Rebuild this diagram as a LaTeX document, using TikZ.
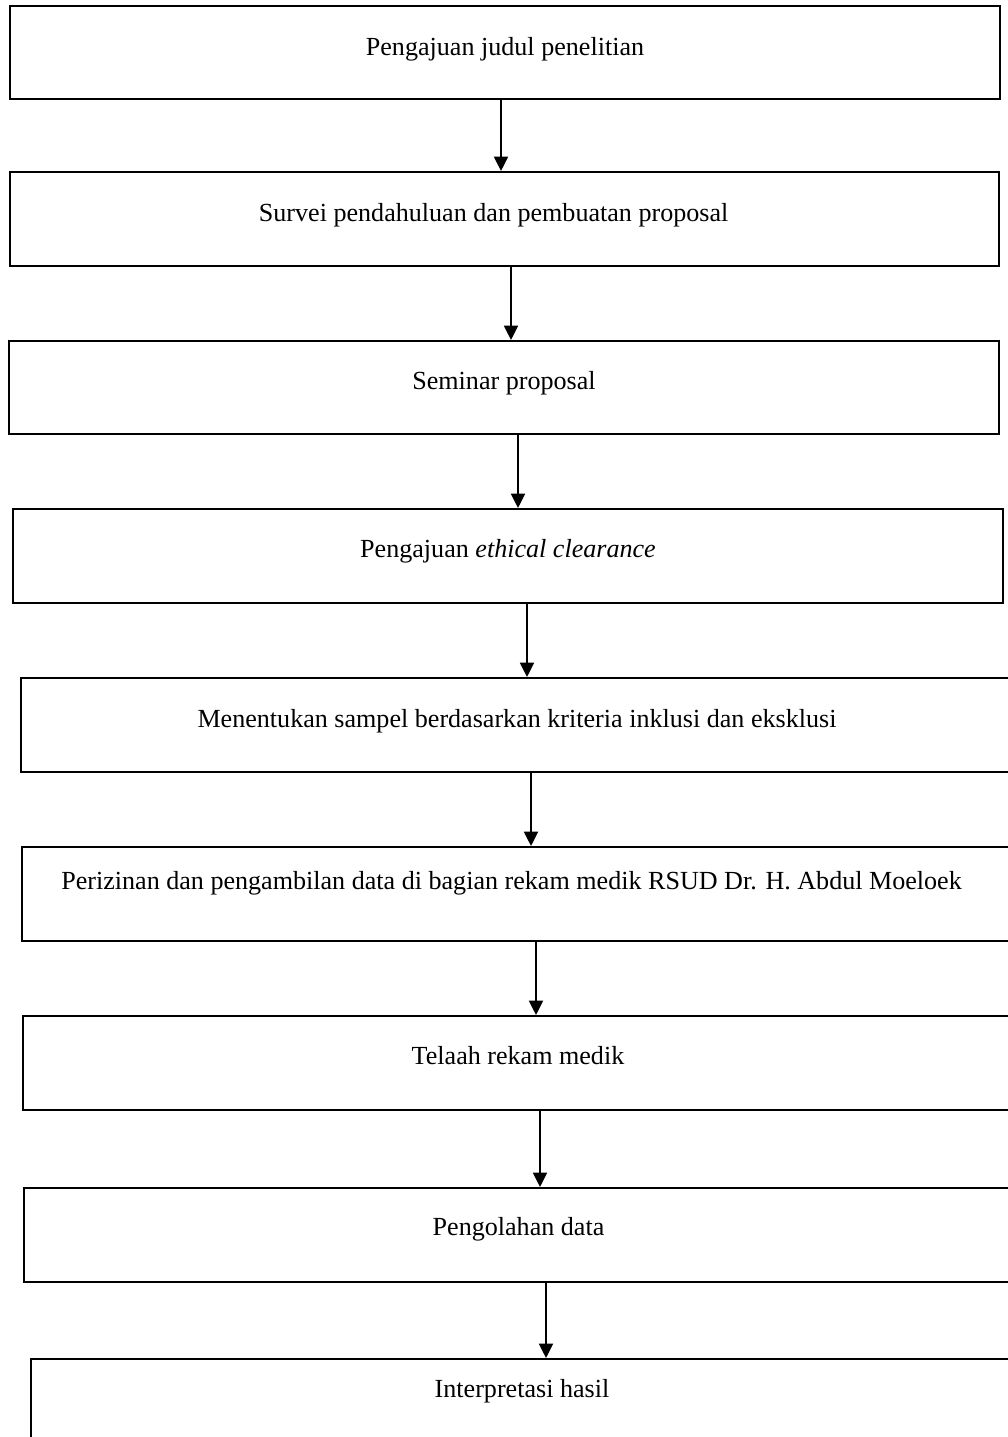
\documentclass[tikz,border=0pt]{standalone}
\usepackage{fontspec}
\setmainfont{Liberation Serif}
\usetikzlibrary{arrows.meta}
\tikzset{
  stepbox/.style={draw,line width=0.9pt,inner sep=0pt,
    minimum width=990*0.46pt,minimum height=94*0.46pt,
    text height=8.5pt,text depth=7pt,font=\fontsize{12}{14}\selectfont},
  flow/.style={-{Triangle[width=6.4pt,length=6.6pt]},line width=0.9pt}
}
\begin{document}
\begin{tikzpicture}[x=0.46pt,y=-0.46pt]
        \useasboundingbox (0,0) rectangle (1007,1437);
        \node[stepbox,minimum height=93*0.46pt,text depth=6pt] (b1) at (505,52.5) {Pengajuan judul penelitian};
        \node[stepbox,minimum width=989*0.46pt,text depth=6pt] (b2) at (504.5,219) {Survei pendahuluan dan pembuatan proposal\hspace*{10pt}};
        \node[stepbox,minimum height=93*0.46pt] (b3) at (504,387.5) {Seminar proposal};
        \node[stepbox] (b4) at (508,556) {Pengajuan \textit{ethical clearance}};
        \node[stepbox,minimum width=992*0.46pt,text depth=6.5pt] (b5) at (517,725) {Menentukan sampel berdasarkan kriteria inklusi dan eksklusi};
        \node[stepbox,minimum width=991*0.46pt,text depth=12.5pt] (b6) at (517.5,894) {Perizinan dan pengambilan data di bagian rekam medik RSUD Dr. H. Abdul Moeloek\hspace*{5.5pt}};
        \node[stepbox] (b7) at (518,1063) {Telaah rekam medik};
        \node[stepbox,minimum width=989*0.46pt,text depth=8.5pt] (b8) at (518.5,1235) {Pengolahan data};
        \node[stepbox,minimum width=982*0.46pt,text depth=16pt] (b9) at (522,1406) {Interpretasi hasil};
        \foreach \i/\j/\ax in {1/2/501,2/3/511,3/4/518,4/5/527,5/6/531,6/7/536,7/8/540,8/9/546}
          \draw[flow] (\ax,0 |- b\i.south) -- (\ax,0 |- b\j.north);
      \end{tikzpicture}
\end{document}
